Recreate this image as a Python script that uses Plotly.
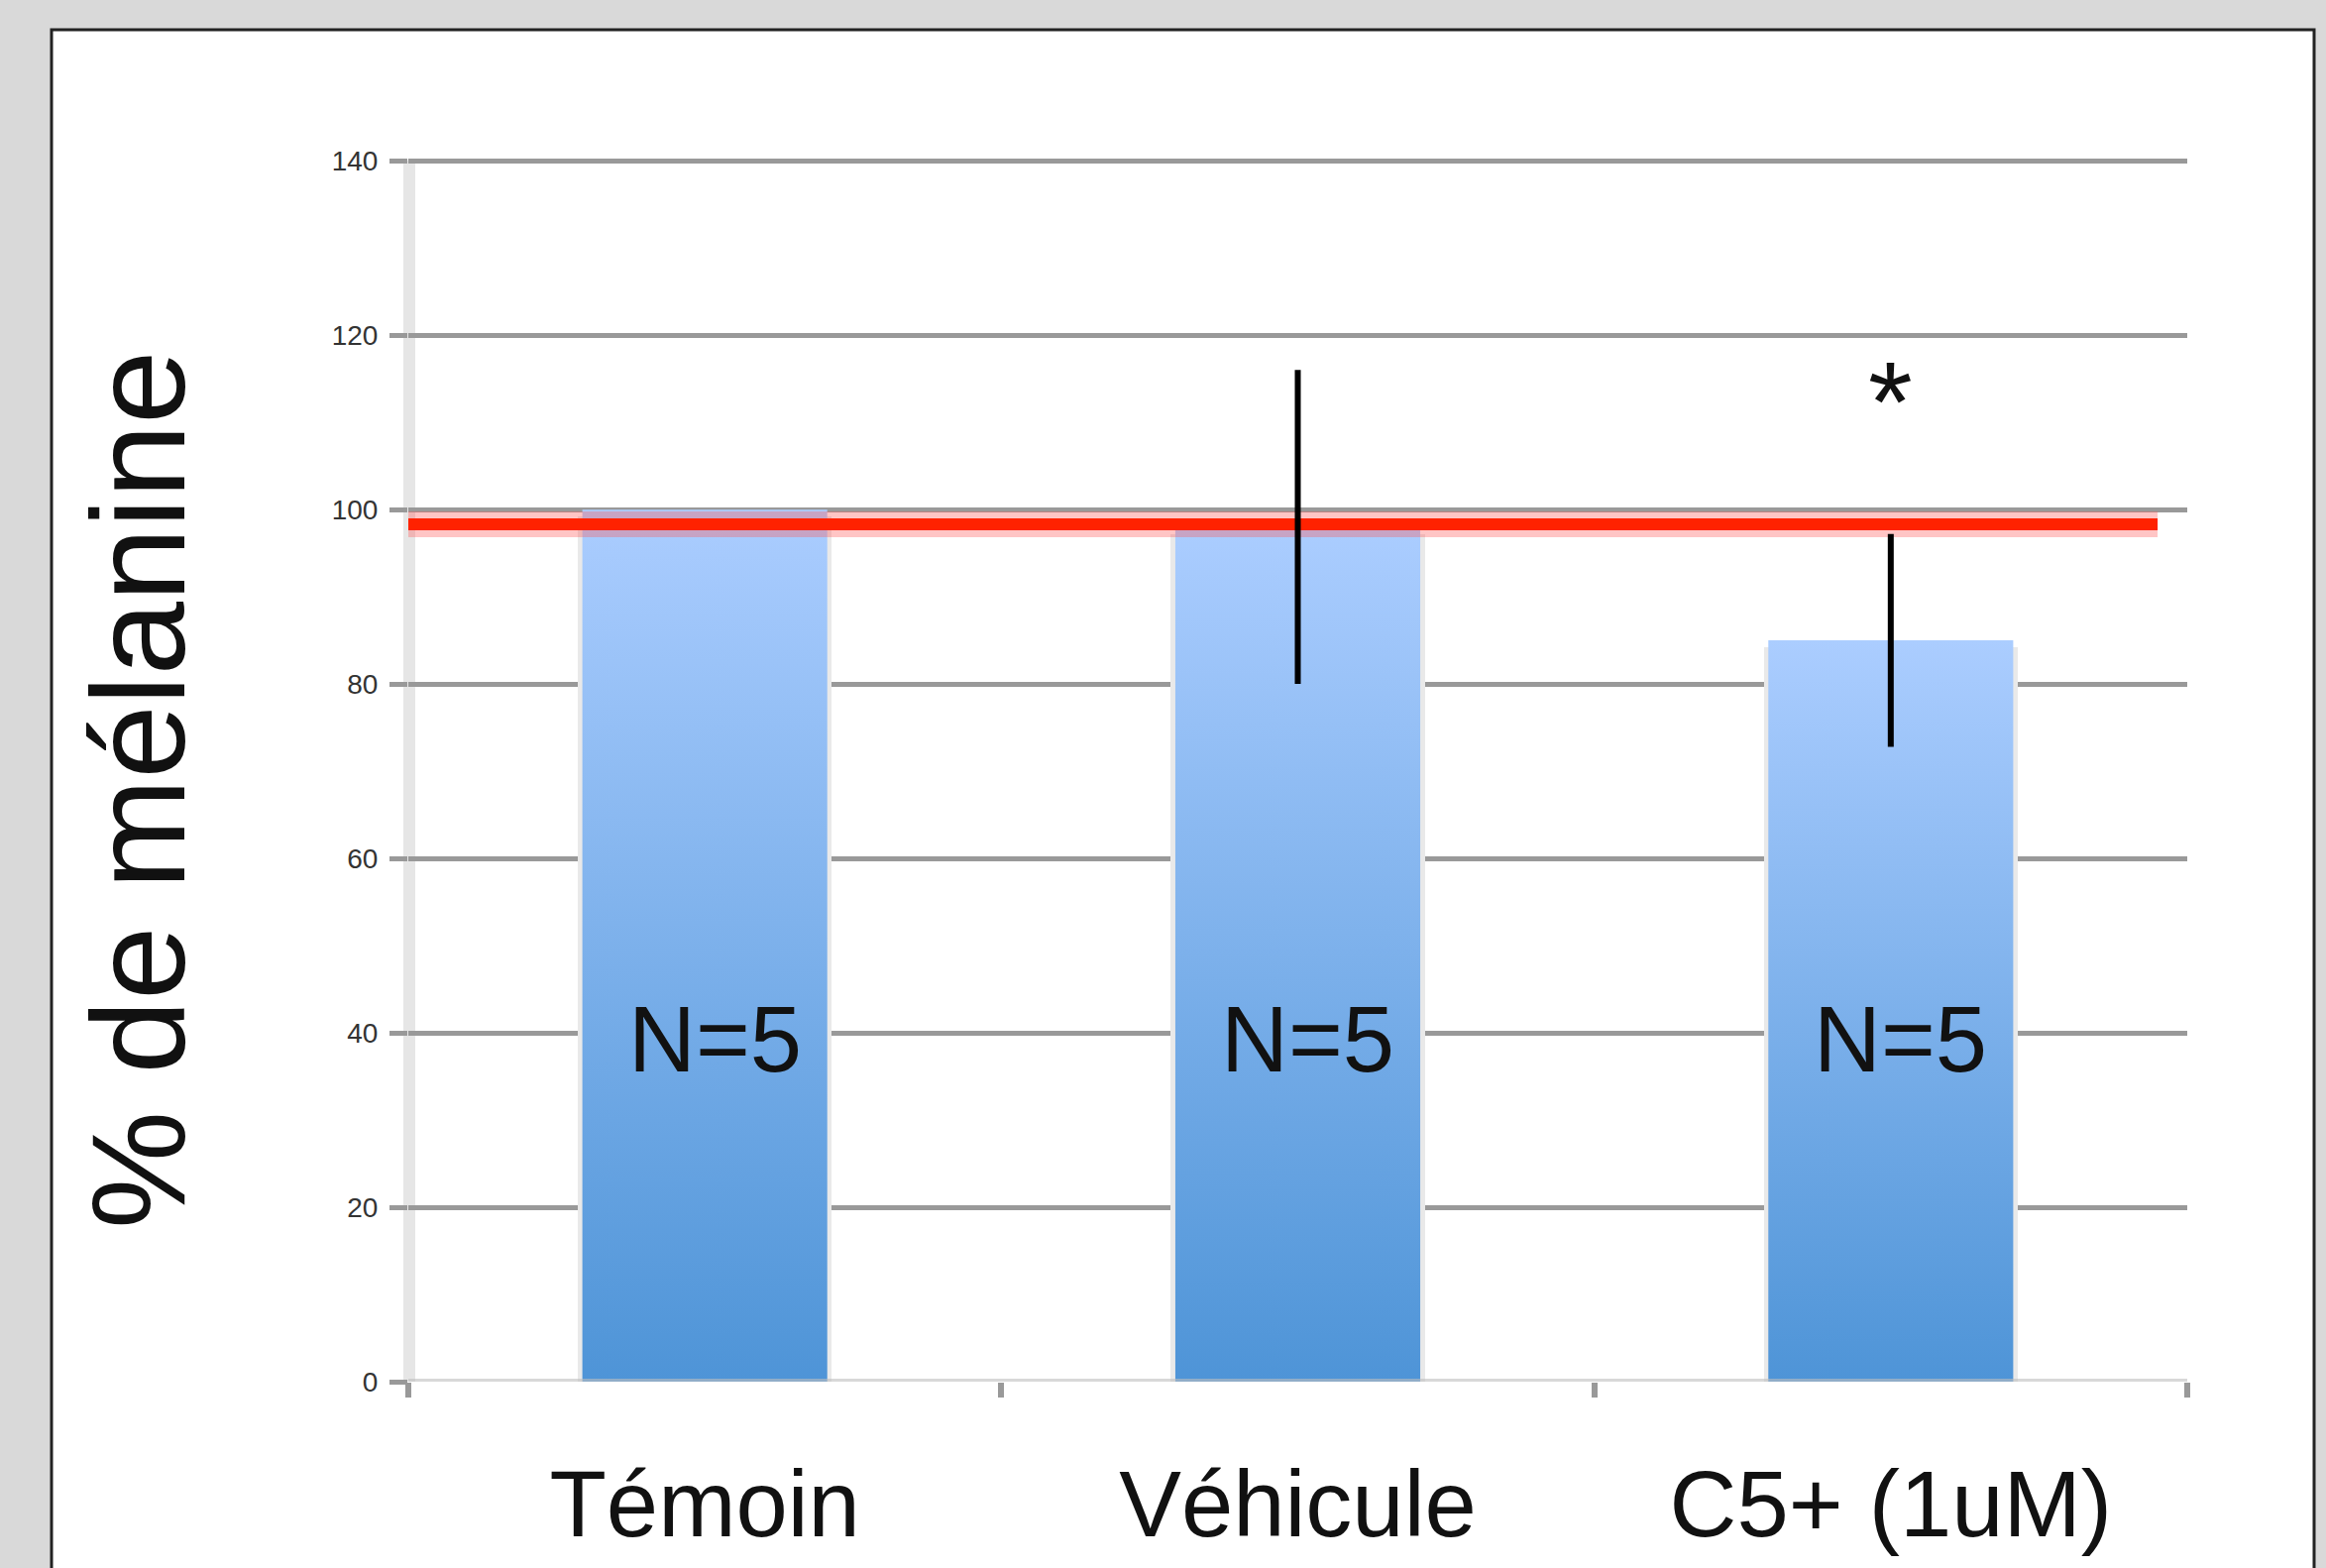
import plotly.graph_objects as go

# ---------------- data ----------------
categories = ["Témoin", "Véhicule", "C5+ (1uM)"]
melanin_pct = [100, 98, 85]
error_sd = [0, 18, 12.2]
n_labels = ["N=5", "N=5", "N=5"]
n_label_level = 39.3
reference_level = 98.3
reference_span = [-0.5, 2.45]
significance = ["", "", "*"]
significance_level = 114.3
y_ticks = [0, 20, 40, 60, 80, 100, 120, 140]
y_title = "% de mélanine"

# ---------------- layout geometry ----------------
W, H = 2347, 1582
Y_PAD = 0.25                      # small extra range so the top gridline is drawn
PX_PER_UNIT = 8.8
L, R = 412, 140
T = int(round(162 - Y_PAD * PX_PER_UNIT))
B = H - 1394
PW, PH = W - L - R, H - T - B


def px_x(px):
    return (px - L) / PW


def px_y(py):
    return (H - B - py) / PH


bar_w = 0.413
idx = list(range(len(categories)))

fig = go.Figure()

# bar shadows
fig.add_trace(go.Bar(
    x=idx, y=[v - 0.8 for v in melanin_pct], width=bar_w + 0.015,
    marker=dict(color="#e9e9e9", line=dict(width=0)),
    hoverinfo="skip", showlegend=False))

# gradient bars
for i, v in zip(idx, melanin_pct):
    x0, x1 = i - bar_w / 2, i + bar_w / 2
    fig.add_trace(go.Scatter(
        x=[x0, x0, x1, x1, x0], y=[0, v, v, 0, 0],
        mode="lines", line=dict(width=0, color="rgba(0,0,0,0)"),
        fill="toself",
        fillgradient=dict(type="vertical",
                          colorscale=[[0, "#4e94d7"], [1, "#abcdff"]],
                          start=0, stop=v),
        hoverinfo="skip", showlegend=False))

# red reference line (glow + core)
fig.add_trace(go.Scatter(
    x=reference_span, y=[reference_level] * 2, mode="lines",
    line=dict(color="rgba(255,90,90,0.35)", width=26),
    hoverinfo="skip", showlegend=False))
fig.add_trace(go.Scatter(
    x=reference_span, y=[reference_level] * 2, mode="lines",
    line=dict(color="#ff2200", width=12),
    hoverinfo="skip", showlegend=False))

# error bars
fig.add_trace(go.Scatter(
    x=idx, y=melanin_pct, mode="markers",
    marker=dict(size=1, opacity=0),
    error_y=dict(type="data", array=error_sd, visible=True,
                 color="#000000", thickness=6, width=0),
    hoverinfo="skip", showlegend=False))

annotations = []
for i, t in zip(idx, n_labels):
    annotations.append(dict(
        x=i, y=n_label_level, xref="x", yref="y", text=t, showarrow=False,
        xshift=10, font=dict(family="Liberation Sans, Arial", size=94, color="#111111")))
for i, s in zip(idx, significance):
    if s:
        annotations.append(dict(
            x=i, y=significance_level, xref="x", yref="y", text=s, showarrow=False,
            yshift=-17, font=dict(family="Liberation Sans, Arial", size=115, color="#111111")))
annotations.append(dict(
    x=px_x(139), y=px_y(797), xref="paper", yref="paper", text=y_title,
    showarrow=False, textangle=-90, xanchor="center", yanchor="middle",
    font=dict(family="Liberation Sans, Arial", size=134, color="#111111")))

shapes = [
    # white card
    dict(type="rect", xref="paper", yref="paper",
         x0=px_x(52), x1=px_x(2335), y0=px_y(1640), y1=px_y(30),
         fillcolor="#ffffff", line=dict(color="#222222", width=3), layer="below"),
    # light y-axis band
    dict(type="rect", xref="paper", yref="y",
         x0=px_x(407), x1=px_x(419), y0=0, y1=140,
         fillcolor="#e6e6e6", line=dict(width=0), layer="below"),
    # x axis line
    dict(type="line", xref="x", yref="y", x0=-0.5, x1=2.5, y0=0, y1=0,
         line=dict(color="rgba(190,190,190,0.6)", width=6), layer="above"),
]

fig.update_layout(
    width=W, height=H,
    margin=dict(l=L, r=R, t=T, b=B, pad=0, autoexpand=False),
    paper_bgcolor="#d9d9d9", plot_bgcolor="rgba(0,0,0,0)",
    showlegend=False, bargap=0,
    xaxis=dict(range=[-0.5, 2.5], tickmode="array", tickvals=idx, ticktext=categories,
               ticks="", showgrid=False, zeroline=False, showline=False, automargin=False,
               tickfont=dict(family="Liberation Sans, Arial", size=94, color="#111111"),
               ticklabelstandoff=61,
               minor=dict(tickmode="array", tickvals=[-0.5, 0.5, 1.5, 2.5],
                          ticks="outside", ticklen=15, tickwidth=6,
                          tickcolor="#999999", showgrid=False)),
    yaxis=dict(range=[0, 140 + Y_PAD], tickmode="array", tickvals=y_ticks,
               showgrid=True, gridcolor="#999999", gridwidth=5, automargin=False,
               ticks="outside", ticklen=18, tickwidth=5, tickcolor="#999999",
               zeroline=False, showline=False,
               tickfont=dict(family="Liberation Sans, Arial", size=28, color="#333333"),
               ticklabelstandoff=6),
    annotations=annotations, shapes=shapes,
)

fig.write_html("out.html", config={"displayModeBar": False},
               post_script="document.body.style.margin='0';document.body.style.overflow='hidden';")
